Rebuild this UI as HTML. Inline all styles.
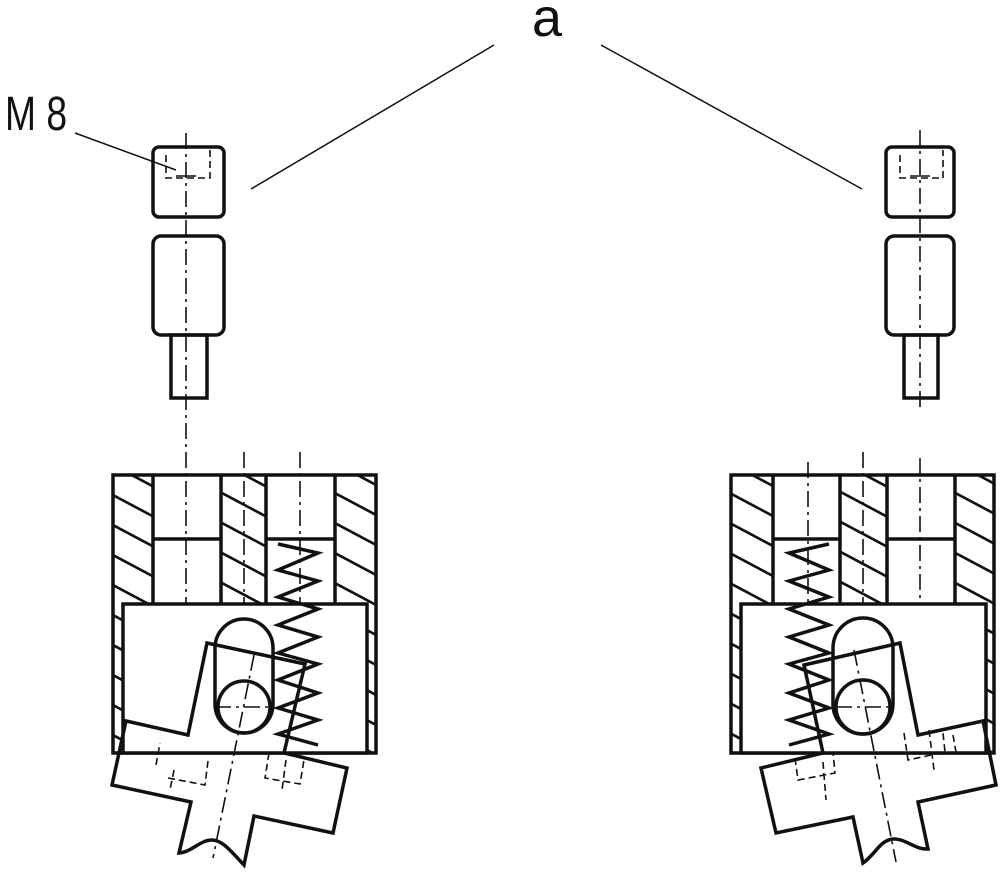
<!DOCTYPE html>
<html><head><meta charset="utf-8"><style>html,body{margin:0;padding:0;background:#fff}svg{display:block}</style></head>
<body>
<svg width="1000" height="872" viewBox="0 0 1000 872" xmlns="http://www.w3.org/2000/svg">
<defs>
<pattern id="h" patternUnits="userSpaceOnUse" width="10" height="30" patternTransform="skewY(28)">
<line x1="-1" y1="15" x2="11" y2="15" stroke="#111" stroke-width="3"/>
</pattern>
</defs>
<g font-family="Liberation Sans, sans-serif" fill="#111">
<text x="5" y="130" font-size="48" textLength="62" lengthAdjust="spacingAndGlyphs">M 8</text>
<text x="532" y="36" font-size="54" textLength="30" lengthAdjust="spacingAndGlyphs">a</text>
</g>
<g stroke="#111" stroke-width="1.5" fill="none">
<line x1="75" y1="133" x2="176" y2="170"/>
<line x1="494" y1="45" x2="251" y2="189"/>
<line x1="601" y1="45" x2="862" y2="189"/>
</g>

<!-- LEFT -->
<g stroke="#111" fill="none">
<g stroke-width="3.5">
<rect x="153" y="147" width="71" height="70" rx="6"/>
<rect x="153" y="236" width="71" height="99" rx="8"/>
<rect x="171" y="335" width="36" height="63"/>
</g>
<g stroke-width="1.6" stroke-dasharray="16,5,3,5">
<line x1="186" y1="133" x2="186" y2="612"/>
<line x1="244" y1="452" x2="244" y2="616"/>
<line x1="300" y1="452" x2="300" y2="612"/>
</g>
<g stroke-width="1.6" stroke-dasharray="7,4">
<path d="M166 155 V178 H210 V150"/>
</g>
<line x1="176" y1="176" x2="196" y2="176" stroke-width="1.6"/>
<rect x="113" y="475" width="40" height="129" fill="url(#h)" stroke="none"/>
<rect x="221" y="475" width="45" height="129" fill="url(#h)" stroke="none"/>
<rect x="335" y="475" width="41" height="129" fill="url(#h)" stroke="none"/>
<rect x="113" y="604" width="10" height="149" fill="url(#h)" stroke="none"/>
<rect x="367" y="604" width="9" height="149" fill="url(#h)" stroke="none"/>
<g stroke-width="3.5">
<rect x="113" y="475" width="263" height="278"/>
<line x1="153" y1="475" x2="153" y2="604"/>
<line x1="221" y1="475" x2="221" y2="604"/>
<line x1="266" y1="475" x2="266" y2="604"/>
<line x1="335" y1="475" x2="335" y2="604"/>
<line x1="153" y1="539" x2="221" y2="539"/>
<line x1="266" y1="539" x2="335" y2="539"/>
<rect x="123" y="604" width="244" height="149" fill="#fff"/>
<path d="M215 648 A29 29 0 0 1 273 648 V704 A29 29 0 0 1 215 704 Z"/>
<circle cx="244" cy="707" r="26"/>
<polyline points="278,544 318,553 278,570 318,581 278,597 318,609 278,625 318,637 278,653 318,664 278,680 318,693 278,708 318,720 278,734 318,745"/>
<path d="M207 643 L305 664 L284 753 L347 768 L333 833 L254 816 L244 865 C230 850 222 840 212 840 C200 840 192 852 179 853 L191 802 L112 785 L126 721 L188 735 Z"/>
</g>
</g>
<g stroke="#111" fill="none" stroke-width="1.6" stroke-dasharray="16,5,3,5">
<line x1="254" y1="655" x2="213" y2="858"/>
<line x1="215" y1="707" x2="273" y2="707"/>
</g>
<g stroke="#111" fill="none" stroke-width="1.6" stroke-dasharray="7,4">
<path d="M156 765 L160 743 M168 778 L205 785 L208 761"/>
<path d="M269 753 L265 778 L300 784 L304 760"/>
<line x1="174" y1="770" x2="170" y2="790"/>
<line x1="286" y1="760" x2="282" y2="790"/>
</g>

<!-- RIGHT -->
<g stroke="#111" fill="none">
<g stroke-width="3.5">
<rect x="886" y="147" width="68" height="70" rx="6"/>
<rect x="886" y="236" width="68" height="99" rx="8"/>
<rect x="904" y="335" width="34" height="63"/>
</g>
<g stroke-width="1.6" stroke-dasharray="16,5,3,5">
<line x1="920" y1="130" x2="920" y2="410"/>
<line x1="920" y1="458" x2="920" y2="617"/>
<line x1="863" y1="452" x2="863" y2="613"/>
<line x1="808" y1="462" x2="808" y2="612"/>
</g>
<g stroke-width="1.6" stroke-dasharray="7,4">
<path d="M900 155 V178 H943 V150"/>
</g>
<line x1="910" y1="176" x2="930" y2="176" stroke-width="1.6"/>
<rect x="731" y="475" width="42" height="129" fill="url(#h)" stroke="none"/>
<rect x="840" y="475" width="47" height="129" fill="url(#h)" stroke="none"/>
<rect x="955" y="475" width="39" height="129" fill="url(#h)" stroke="none"/>
<rect x="731" y="604" width="10" height="149" fill="url(#h)" stroke="none"/>
<rect x="986" y="604" width="8" height="149" fill="url(#h)" stroke="none"/>
<g stroke-width="3.5">
<rect x="731" y="475" width="263" height="278"/>
<line x1="773" y1="475" x2="773" y2="604"/>
<line x1="840" y1="475" x2="840" y2="604"/>
<line x1="887" y1="475" x2="887" y2="604"/>
<line x1="955" y1="475" x2="955" y2="604"/>
<line x1="773" y1="539" x2="840" y2="539"/>
<line x1="887" y1="539" x2="955" y2="539"/>
<rect x="741" y="604" width="245" height="149" fill="#fff"/>
<path d="M833 648 A30 30 0 0 1 893 648 V704 A30 30 0 0 1 833 704 Z"/>
<circle cx="863" cy="707" r="27"/>
<polyline points="829,544 789,553 829,570 789,581 829,597 789,609 829,625 789,637 829,653 789,664 829,680 789,693 829,708 789,720 829,734 789,745"/>
<path d="M900 643 L804 665 L823 753 L761 768 L776 833 L853 817 L863 863 C875 855 880 840 893 839 C905 838 915 850 928 849 L918 802 L996 785 L983 721 L918 735 Z"/>
</g>
</g>
<g stroke="#111" fill="none" stroke-width="1.6" stroke-dasharray="16,5,3,5">
<line x1="854" y1="650" x2="896" y2="862"/>
<line x1="836" y1="707" x2="890" y2="707"/>
</g>
<g stroke="#111" fill="none" stroke-width="1.6" stroke-dasharray="7,4">
<path d="M795 758 L798 780 L835 773 L833 752"/>
<path d="M904 733 L908 760 L945 752 L943 733"/>
<line x1="823" y1="762" x2="826" y2="800"/>
<line x1="929" y1="730" x2="934" y2="770"/>
<line x1="953" y1="735" x2="956" y2="752"/>
</g>
</svg>
</body></html>
